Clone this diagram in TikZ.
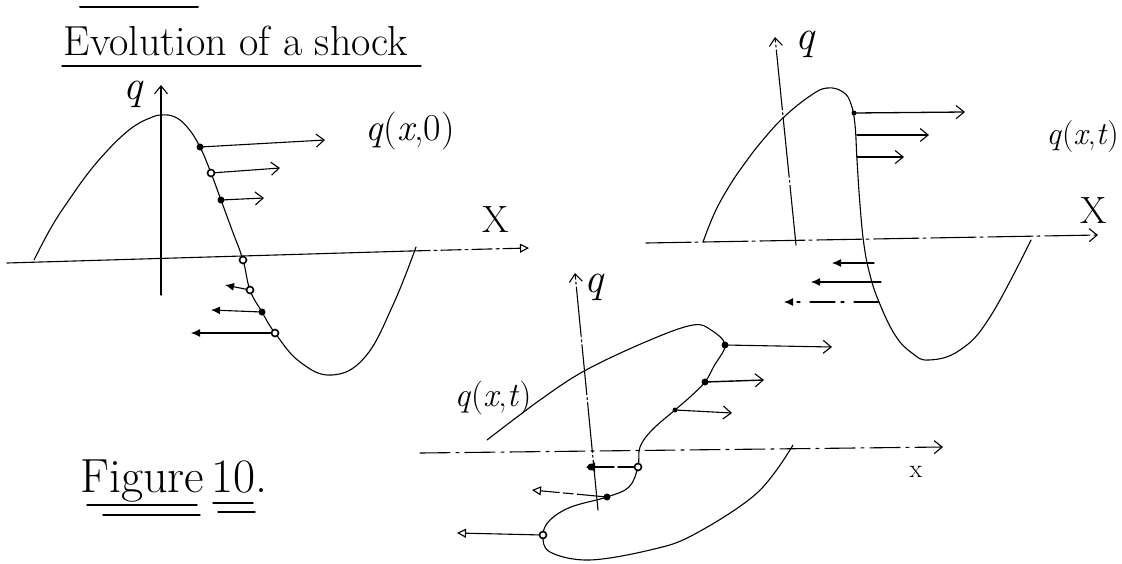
\documentclass[tikz,border=0pt]{standalone}
\usetikzlibrary{arrows.meta}
\begin{document}
\begin{tikzpicture}[x=1pt,y=-1pt,
  ink/.style={line width=1.1pt, line cap=round, line join=round},
  sketchy/.style={ink, dash pattern=on 45pt off 4pt on 3pt off 5pt},
  barb/.style={-{Straight Barb[length=8pt,width=13pt,line width=1.1pt]}},
  openhead/.style={-{Triangle[open,length=9pt,width=9pt,line width=1.1pt]}},
  fillhead/.style={-{Latex[length=9pt,width=8pt]}},
  dotf/.style={circle, fill=black, inner sep=0pt, minimum size=7pt},
  doto/.style={circle, draw=black, fill=white, line width=1.6pt, inner sep=0pt, minimum size=7pt},
  lbl/.style={inner sep=0pt, font=\fontsize{38}{40}\selectfont},
  axlbl/.style={inner sep=0pt, font=\fontsize{42}{44}\selectfont},
  biglbl/.style={inner sep=0pt, font=\fontsize{42}{44}\selectfont},
]
\useasboundingbox (0,0) rectangle (1122,563);
\fill[white] (0,0) rectangle (1122,563);

% ---------- title ----------
\node[biglbl] (title) at (236,41) {Evolution of a shock};
\coordinate (tuA) at (62,66); \coordinate (tuB) at (421,66);
\draw[ink, line width=1.4pt] (tuA) -- (tuB);
\coordinate (toA) at (80,7); \coordinate (toB) at (198,7);
\draw[ink, line width=2pt] (toA) -- (toB);

% ---------- left graph: q(x,0) ----------
\coordinate (LxA) at (7,263); \coordinate (LxM) at (410,251); \coordinate (LxB) at (529,248);
\draw[ink] (LxA) -- (LxM);
\draw[sketchy, openhead, dash pattern=on 20pt off 4pt on 3pt off 4pt] (LxM) -- (LxB);
\coordinate (LqA) at (161,295); \coordinate (LqB) at (161,85);
\draw[ink, barb] (LqA) -- (LqB);
\node[axlbl] (Lq) at (134,94) {\textit{q}};
\node[axlbl, font=\fontsize{38}{40}\selectfont] (LX) at (496,220) {X};
\node[lbl] (Lqx) at (410,131) {\textit{q}(\textit{x},0)};

\coordinate (L1) at (200,147); \coordinate (L2) at (211,173); \coordinate (L3) at (221,200);
\coordinate (L0) at (243,260); \coordinate (L4) at (250,290); \coordinate (L5) at (262,312);
\coordinate (L6) at (275,333);
\draw[ink] plot[smooth, tension=0.7] coordinates {(34,260) (52,226) (71,197) (89,172) (107,151) (122,136) (136,125) (150,118) (161,115) (175,117) (188,128) (L1) (L2) (L3) (232,230) (L0) (L4) (L5) (L6) (300,362) (332,375) (365,357) (393,305) (416,247)};

\coordinate (LE1) at (325,140); \coordinate (LE2) at (280,168); \coordinate (LE3) at (264,198);
\coordinate (LE4) at (225,285); \coordinate (LE5) at (211,310); \coordinate (LE6) at (191,333);
\draw[ink, barb] (L1) -- (LE1);
\draw[ink, barb] (L2) -- (LE2);
\draw[ink, barb] (L3) -- (LE3);
\draw[ink, fillhead] (L4) -- (LE4);
\draw[ink, fillhead] (L5) -- (LE5);
\draw[ink, fillhead] (L6) -- (LE6);
\node[dotf] (dL1) at (L1) {};
\node[doto] (dL2) at (L2) {};
\node[dotf] (dL3) at (L3) {};
\node[doto] (dL0) at (L0) {};
\node[doto] (dL4) at (L4) {};
\node[dotf] (dL5) at (L5) {};
\node[doto] (dL6) at (L6) {};

% ---------- right graph: q(x,t) ----------
\coordinate (RxA) at (646,243); \coordinate (RxB) at (1098,235);
\draw[sketchy, barb] (RxA) -- (RxB);
\coordinate (RqA) at (796,245); \coordinate (RqB) at (775,37);
\draw[sketchy, barb, dash pattern=on 60pt off 3pt on 2pt off 3pt] (RqA) -- (RqB);
\node[axlbl] (Rq) at (806,44) {\textit{q}};
\node[axlbl, font=\fontsize{38}{40}\selectfont] (RX) at (1094,211) {X};
\node[lbl, anchor=east, font=\fontsize{32}{34}\selectfont] (Rqx) at (1119,137) {\textit{q}(\textit{x},\textit{t})};

\draw[ink] plot[smooth, tension=0.7] coordinates {(703,242) (715,212) (730,185) (745,163) (762,141) (784,117) (810,96) (827,88) (843,92) (851,104) (855,125) (857,160) (860,205) (864,245) (870,275) (879,302) (895,335) (912,353) (929,360) (960,350) (990,317) (1031,240)};

\coordinate (R1) at (854,113); \coordinate (R2) at (857,135); \coordinate (R3) at (857,157);
\coordinate (RE1) at (965,112); \coordinate (RE2) at (929,135); \coordinate (RE3) at (904,157);
\draw[ink, barb, line width=1.3pt] (R1) -- (RE1);
\draw[ink, barb] (R2) -- (RE2);
\draw[ink, barb] (R3) -- (RE3);
\node[dotf, minimum size=5pt] (dR1) at (R1) {};
\coordinate (R4) at (874,263); \coordinate (R5) at (881,282); \coordinate (R6) at (879,302);
\coordinate (RE4) at (832,263); \coordinate (RE5) at (811,282); \coordinate (RE6) at (784,302);
\draw[ink, fillhead] (R4) -- (RE4);
\draw[ink, fillhead] (R5) -- (RE5);
\draw[ink, fillhead, dash pattern=on 25pt off 10pt on 3pt off 6pt] (R6) -- (RE6);

% ---------- bottom graph: q(x,t) after breaking ----------
\coordinate (BxA) at (420,453); \coordinate (BxB) at (943,447);
\draw[sketchy, barb, dash pattern=on 30pt off 6pt on 3pt off 6pt] (BxA) -- (BxB);
\coordinate (BqA) at (598,510); \coordinate (BqB) at (575,273);
\draw[sketchy, barb, dash pattern=on 50pt off 3pt on 2pt off 3pt] (BqA) -- (BqB);
\node[axlbl] (Bq) at (595,287) {\textit{q}};
\node[lbl, font=\fontsize{26}{28}\selectfont] (Bx) at (916,472) {x};
\node[lbl, font=\fontsize{34}{36}\selectfont] (Bqx) at (493,398) {\textit{q}(\textit{x},\textit{t})};

\coordinate (B1) at (725,345); \coordinate (B2) at (705,382); \coordinate (B3) at (675,410);
\coordinate (B4) at (638,467); \coordinate (B5) at (607,497); \coordinate (B6) at (543,535);
\draw[ink] plot[smooth, tension=0.6] coordinates {(487,440) (540,400) (586,370) (650,340) (693,325) (711,330) (B1) (714,366) (B2) (690,397) (B3) (652,430) (640,447) (B4) (629,487) (B5) (571,507) (550,520) (B6) (550,552) (589,560) (650,550) (693,535) (757,493) (793,445)};

\coordinate (BE1) at (832,347); \coordinate (BE2) at (764,380); \coordinate (BE3) at (732,413);
\coordinate (BE4) at (586,467); \coordinate (BE5) at (532,490); \coordinate (BE6) at (457,533);
\draw[ink, barb] (B1) -- (BE1);
\draw[ink, barb, line width=1.4pt] (B2) -- (BE2);
\draw[ink, barb] (B3) -- (BE3);
\draw[ink, openhead, dash pattern=on 20pt off 4pt] (B4) -- (BE4);
\draw[ink, openhead, dash pattern=on 30pt off 4pt on 10pt off 4pt] (B5) -- (BE5);
\draw[ink, openhead] (B6) -- (BE6);
\node[dotf] (dB1) at (B1) {};
\node[dotf] (dB2) at (B2) {};
\node[dotf, minimum size=5pt] (dB3) at (B3) {};
\node[doto] (dB4) at (B4) {};
\node[dotf] (dB4a) at (591,467) {};
\node[dotf] (dB5) at (B5) {};
\node[doto] (dB6) at (B6) {};

% ---------- Figure 10 ----------
\node[inner sep=0pt, anchor=base west, font=\fontsize{48}{50}\selectfont] (fig) at (80,492) {Figure};
\node[inner sep=0pt, anchor=base west, font=\fontsize{48}{50}\selectfont] (fignum) at (211,492) {10.};
\coordinate (fu1A) at (87,505); \coordinate (fu1B) at (197,505);
\coordinate (fu2A) at (103,515); \coordinate (fu2B) at (200,515);
\coordinate (fu3A) at (213,503); \coordinate (fu3B) at (253,503);
\coordinate (fu4A) at (218,512); \coordinate (fu4B) at (255,512);
\draw[ink, line width=1.4pt] (fu1A) -- (fu1B);
\draw[ink, line width=1.4pt] (fu2A) -- (fu2B);
\draw[ink, line width=1.4pt] (fu3A) -- (fu3B);
\draw[ink, line width=1.4pt] (fu4A) -- (fu4B);
\end{tikzpicture}
\end{document}
